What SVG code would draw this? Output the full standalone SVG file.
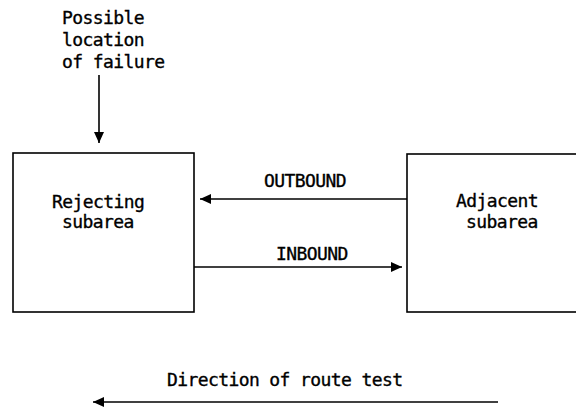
<svg xmlns="http://www.w3.org/2000/svg" width="576" height="407" viewBox="0 0 576 407">
<style>
text{font-family:"DejaVu Sans Mono","Liberation Mono",monospace;font-size:18px;letter-spacing:-0.6px;fill:#000;stroke:#000;stroke-width:0.35}
.box{fill:#fff;stroke:#000;stroke-width:1.6}
.ln{stroke:#000;stroke-width:1.6;fill:none;marker-end:url(#ah)}
</style>
<defs>
<marker id="ah" markerUnits="userSpaceOnUse" markerWidth="12" markerHeight="10" refX="11" refY="5" orient="auto">
<path d="M0,0 L11,5 L0,10 Z" fill="#000"/>
</marker>
</defs>
<rect width="576" height="407" fill="#fff"/>
<g id="failure-label">
<text x="62" y="24">Possible</text>
<text x="62" y="46">location</text>
<text x="62" y="68">of failure</text>
</g>
<g id="rejecting">
<rect class="box" x="13" y="153" width="181" height="159"/>
<text x="52" y="208">Rejecting</text>
<text x="62" y="228">subarea</text>
</g>
<g id="adjacent">
<rect class="box" x="407" y="154" width="190" height="158"/>
<text x="456" y="207">Adjacent</text>
<text x="466" y="228">subarea</text>
</g>
<g id="connectors">
<line class="ln" x1="99" y1="75" x2="99" y2="143"/>
<line class="ln" x1="407" y1="199" x2="200" y2="199"/>
<line class="ln" x1="194" y1="267" x2="402" y2="267"/>
<line class="ln" x1="498" y1="402" x2="93" y2="402"/>
<text x="264" y="187">OUTBOUND</text>
<text x="276" y="260">INBOUND</text>
<text x="167" y="386">Direction of route test</text>
</g>
</svg>
